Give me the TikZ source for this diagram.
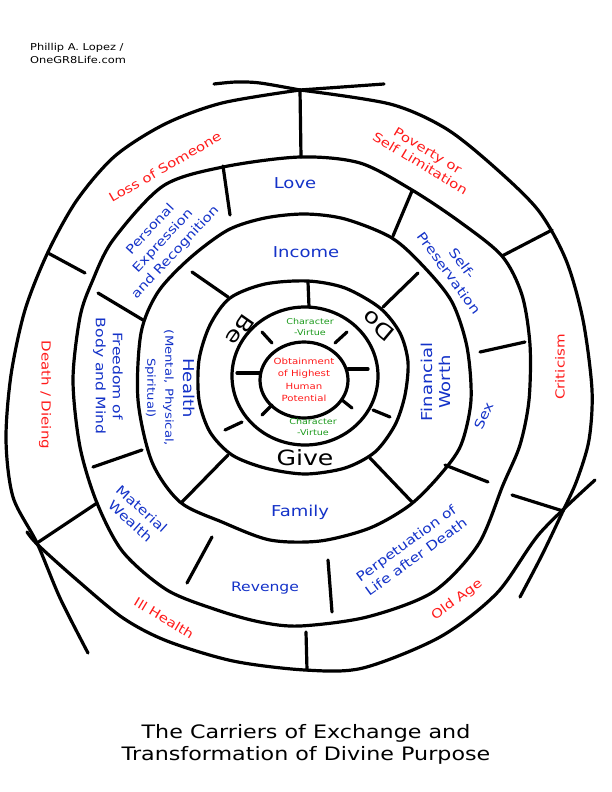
\documentclass[tikz,border=0pt]{standalone}
\usepackage{fontspec}
\setmainfont{DejaVu Sans}[FakeStretch=1.2]
\usepackage{tikz}
\definecolor{WheelRed}{HTML}{FF1A1A}
\definecolor{WheelBlue}{HTML}{1432C8}
\definecolor{WheelGreen}{HTML}{1C9A1C}

\begin{document}
\begin{tikzpicture}[x=1pt,y=-1pt,
  wheelline/.style={line width=3.2pt,line cap=round,line join=round},
  redtext/.style={text=WheelRed,font=\fontsize{12.5}{15}\selectfont,align=center,inner sep=0pt},
  bluetext/.style={text=WheelBlue,font=\fontsize{13}{17}\selectfont,align=center,inner sep=0pt},
  bigblue/.style={text=WheelBlue,font=\fontsize{15}{18}\selectfont,align=center,inner sep=0pt},
  greentext/.style={text=WheelGreen,font=\fontsize{8}{11}\selectfont,align=center,inner sep=0pt},
  bigblack/.style={font=\fontsize{21}{24}\selectfont,inner sep=0pt}]
  \useasboundingbox (0,0) rectangle (612,792);

  % outer boundary: three crossing arcs and the top stroke
  \draw[wheelline] plot[smooth] coordinates {(214,84) (236,82) (260,83) (300,90)};
  \draw[wheelline] (300,90) -- (384,84);
  \draw[wheelline] plot[smooth] coordinates {(300,90) (222,103) (165,124) (115,156)
    (77,200) (48,252) (25,310) (11,375) (6,440) (13,497) (37,543) (60,598) (88,653)};
  \draw[wheelline] plot[smooth] coordinates {(300,90) (390,104) (445,128) (492,165)
    (538,210) (566,260) (583,320) (592,390) (589,440) (577,480) (563,511) (542,555) (520,597)};
  \draw[wheelline] plot[smooth] coordinates {(27,532) (38,545) (77,580) (123,618)
    (167,641) (233,661) (305,670) (363,668) (440,637) (497,593) (540,533) (595,480)};

  % rings
  \draw[wheelline] plot[smooth cycle] coordinates {(300,157) (360,163) (412,190) (460,222)
    (502,256) (522,295) (530,345) (529,400) (520,445) (503,485) (478,545) (433,592)
    (367,617) (300,626) (260,622) (217,610) (167,590) (123,552) (97,503) (80,447)
    (73,380) (80,317) (92,282) (113,240) (163,186) (223,167)};
  \draw[wheelline] plot[smooth cycle] coordinates {(305,214) (345,219) (392,238) (425,268)
    (452,302) (467,347) (471,400) (461,445) (440,475) (410,505) (370,528) (320,541)
    (270,540) (222,522) (180,502) (152,462) (138,400) (141,333) (158,292) (190,258)
    (228,230) (265,218)};
  \draw[wheelline] plot[smooth cycle] coordinates {(308,281) (345,288) (380,308) (400,333)
    (408,362) (405,395) (395,425) (375,452) (345,468) (305,474) (265,468) (232,455)
    (210,432) (199,400) (199,360) (210,325) (230,298) (265,284)};
  \draw[wheelline] (305,376) ellipse [x radius=73pt, y radius=69pt];
  \draw[wheelline] (304,380) ellipse [x radius=44pt, y radius=38pt];

  % dividers, outer ring
  \draw[wheelline] (300,90) -- (301,157);
  \draw[wheelline] (502,256) -- (552,230);
  \draw[wheelline] (512,495) -- (563,511);
  \draw[wheelline] (306,632) -- (307,670);
  \draw[wheelline] (97,503) -- (37,543);
  \draw[wheelline] (48,253) -- (85,273);
  % dividers, second ring
  \draw[wheelline] (223,166) -- (230,215);
  \draw[wheelline] (412,191) -- (393,236);
  \draw[wheelline] (480,352) -- (525,342);
  \draw[wheelline] (445,465) -- (488,482);
  \draw[wheelline] (328,560) -- (332,612);
  \draw[wheelline] (212,537) -- (187,583);
  \draw[wheelline] (93,467) -- (142,450);
  \draw[wheelline] (98,293) -- (143,320);
  % dividers, third ring
  \draw[wheelline] (192,272) -- (228,297);
  \draw[wheelline] (418,273) -- (383,307);
  \draw[wheelline] (370,458) -- (412,502);
  \draw[wheelline] (228,455) -- (182,502);
  % dividers, Be / Do / Give ring
  \draw[wheelline] (308,282) -- (309,307);
  \draw[wheelline] (373,410) -- (390,417);
  \draw[wheelline] (225,430) -- (242,422);
  % rays round the centre
  \draw[wheelline] (262,332) -- (272,343);
  \draw[wheelline] (347,332) -- (335,343);
  \draw[wheelline] (237,373) -- (260,373);
  \draw[wheelline] (348,369) -- (368,369);
  \draw[wheelline] (262,415) -- (272,405);
  \draw[wheelline] (342,400) -- (352,408);

  % outer ring
  \node[redtext,rotate=30] (loss) at (165,167) {Loss of Someone};
  \node[redtext,rotate=-31] (poverty) at (424,157) {Poverty or\\Self Limitation};
  \node[redtext,rotate=90] (criticism) at (560,367) {Criticism};
  \node[redtext,rotate=36] (oldage) at (457,600) {Old Age};
  \node[redtext,rotate=-31] (illhealth) at (164,618) {Ill Health};
  \node[redtext,rotate=-90] (death) at (45,395) {Death / Dieing};

  % second ring
  \node[bigblue] (love) at (295,183) {Love};
  \node[bluetext,rotate=-54] (selfpres) at (456,268) {Self-\\Preservation};
  \node[bluetext,rotate=66] (sex) at (484,416) {Sex};
  \node[bluetext,rotate=36] (perpetuation) at (411,550) {Perpetuation of\\Life after Death};
  \node[bluetext] (revenge) at (265,588) {Revenge};
  \node[bluetext,rotate=-42] (material) at (136,515) {Material\\Wealth};
  \node[bluetext,rotate=-90] (freedom) at (108,376) {Freedom of\\Body and Mind};
  \node[bluetext,rotate=47,font=\fontsize{12.5}{17}\selectfont] (personal) at (163,241)
    {Personal\\Expression\\and Recognition};

  % third ring
  \node[bigblue] (income) at (306,252) {Income};
  \node[bigblue,rotate=90] (financial) at (436,382) {Financial\\Worth};
  \node[bigblue] (family) at (300,512) {Family};
  \node[bigblue,rotate=-90] (health) at (170,388)
    {Health\\{\fontsize{11}{13}\selectfont(Mental, Physical,}\\{\fontsize{11}{13}\selectfont Spiritual)}};

  % Be / Do / Give
  \node[bigblack,rotate=-125] (be) at (240,330) {Be};
  \node[bigblack,rotate=140] (do) at (378,326) {Do};
  \node[bigblack] (give) at (305,458) {Give};
  \node[greentext] (virtuetop) at (310,327) {Character\\-Virtue};
  \node[greentext] (virtuebottom) at (313,427) {Character\\-Virtue};
  \node[text=WheelRed,font=\fontsize{8.5}{12.5}\selectfont,align=center,inner sep=0pt]
    (potential) at (304,380) {Obtainment\\of Highest\\Human\\Potential};

  \node[font=\fontsize{9.5}{13}\selectfont,align=left,anchor=west,inner sep=0pt]
    (credit) at (30,53) {Phillip A. Lopez /\\OneGR8Life.com};
  \node[font=\fontsize{18.5}{22}\selectfont,align=center,inner sep=0pt]
    (title) at (306,744) {The Carriers of Exchange and\\Transformation of Divine Purpose};
\end{tikzpicture}
\end{document}
